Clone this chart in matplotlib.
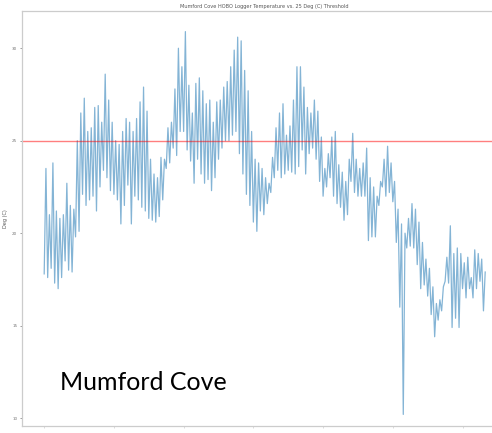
"""
Mumford Cove HOBO logger water temperature against the 25 Deg (C) threshold.
Daily high/low readings are interleaved into a single trace.
"""
import numpy as np
import matplotlib
matplotlib.use('Agg')
import matplotlib.pyplot as plt

# daily highs and lows, Deg (C), in deployment order
daily_high = [
    23.5, 21.0, 23.8, 21.2, 20.8, 21.0, 22.7, 21.5, 21.3, 25.0,
    26.5, 27.3, 25.5, 25.7, 26.8, 26.9, 26.0, 28.6, 27.2, 26.0,
    25.0, 24.8, 25.5, 26.2, 26.0, 25.5, 26.2, 27.1, 27.9, 26.6,
    24.0, 23.2, 23.0, 24.1, 24.0, 25.7, 26.0, 27.8, 30.0, 29.0,
    30.9, 28.0, 26.5, 28.1, 28.4, 27.7, 27.0, 27.2, 26.0, 27.1,
    27.2, 27.9, 28.2, 29.0, 29.9, 30.6, 30.4, 28.8, 27.7, 25.5,
    24.0, 23.8, 23.5, 23.0, 22.7, 24.1, 25.7, 26.5, 27.0, 25.3,
    25.8, 27.2, 29.0, 29.0, 27.9, 26.8, 26.5, 27.2, 26.6, 25.2,
    23.5, 24.3, 25.2, 25.5, 23.7, 23.3, 22.8, 24.0, 25.4, 24.0,
    23.5, 23.8, 24.6, 23.0, 22.5, 22.0, 22.8, 24.0, 24.7, 23.8,
    22.8, 21.3, 20.5, 20.0, 20.8, 21.6, 21.3, 20.6, 19.5, 18.6,
    18.1, 17.1, 16.2, 16.4, 17.1, 18.7, 20.4, 18.9, 19.2, 18.9,
    18.4, 18.7, 17.6, 19.1, 18.9, 18.6, 17.9,
]
daily_low = [
    17.8, 17.6, 18.1, 17.3, 17.0, 17.6, 18.5, 18.0, 17.9, 19.8,
    20.1, 22.1, 21.5, 21.8, 22.0, 21.2, 22.5, 23.4, 23.0, 22.3,
    22.1, 21.8, 20.5, 21.5, 22.6, 20.5, 22.0, 21.8, 21.4, 21.2,
    20.8, 20.7, 20.6, 20.9, 21.8, 23.5, 23.8, 24.6, 24.2, 25.5,
    25.5, 24.5, 23.9, 22.7, 24.0, 23.2, 22.7, 22.9, 22.3, 23.0,
    24.0, 24.6, 25.0, 25.0, 25.3, 25.5, 24.3, 23.2, 22.1, 21.5,
    20.6, 20.1, 21.2, 21.0, 21.6, 22.2, 23.0, 23.4, 23.0, 23.2,
    23.4, 23.3, 23.2, 23.6, 24.5, 23.2, 24.3, 24.6, 24.0, 22.8,
    22.0, 22.5, 23.0, 22.0, 21.6, 21.4, 20.7, 21.0, 22.8, 22.2,
    22.0, 22.0, 22.0, 19.6, 19.8, 19.8, 21.5, 22.5, 22.0, 22.2,
    21.7, 19.5, 16.0, 10.2, 19.2, 19.3, 19.2, 18.3, 17.0, 17.2,
    16.6, 15.6, 14.4, 15.3, 15.8, 17.4, 17.3, 14.9, 15.4, 14.9,
    17.0, 16.5, 17.0, 16.5, 17.0, 17.4, 15.8,
]
threshold = 25

# interleave low/high so each day reads as one swing
temps = np.column_stack([daily_low, daily_high]).ravel()
t = np.arange(len(temps)) / 2.0

fig = plt.figure(figsize=(4.92, 4.33), dpi=100)
ax = fig.add_axes([0.045, 0.016, 0.986, 0.958])

ax.plot(t, temps, color='#1f77b4', alpha=0.55, linewidth=0.9)
ax.axhline(threshold, color='red', alpha=0.5, linewidth=1.0)

ax.set_ylim(9.57, 32.0)
ax.set_yticks([10, 15, 20, 25, 30])
ax.set_title('Mumford Cove HOBO Logger Temperature vs. 25 Deg (C) Threshold',
             fontsize=3.6, color='#555555', pad=2)
ax.set_ylabel('Deg (C)', fontsize=3.6, color='#555555', labelpad=3)
ax.tick_params(axis='y', labelsize=3, colors='#777777', length=1.5,
               width=0.5, pad=2)
ax.tick_params(axis='x', labelbottom=False, length=1.5, width=0.5,
               colors='#cccccc')
for spine in ax.spines.values():
    spine.set_color('#cccccc')
    spine.set_linewidth(0.9)

fig.text(0.122, 0.099, 'Mumford Cove', fontsize=18, family='Lato',
         va='baseline', ha='left', color='black')

fig.savefig('out.png', dpi=100)
